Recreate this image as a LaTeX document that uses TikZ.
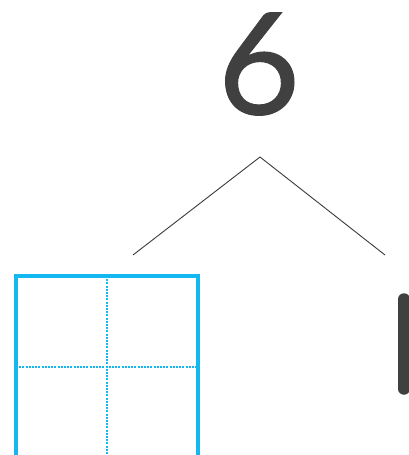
\documentclass[tikz,border=0pt]{standalone}
\usepackage{fontspec}
\usepackage{xcolor}
\usepackage{tikz}
\usetikzlibrary{positioning}
\newfontfamily\digitfont{Lato}[FakeBold=0.7]
\definecolor{digitgray}{HTML}{404040}
\definecolor{gridblue}{HTML}{14B8F0}

\begin{document}
\begin{tikzpicture}[
    x=1pt, y=-1pt,
    digit/.style={text=digitgray, font=\digitfont\fontsize{142}{142}\selectfont, inner sep=0pt},
    branch/.style={draw=digitgray!90!black, line width=0.9pt},
    gridbox/.style={draw=gridblue, line width=3.2pt, minimum size=182pt, inner sep=0pt, outer sep=0pt},
    guide/.style={draw=gridblue, line width=2.3pt, dash pattern=on 2pt off 1.2pt}
]
\useasboundingbox (0,0) rectangle (409,455);
\node[digit] (six) at (259,64) {6};
\coordinate (apex) at (260,157);
\coordinate (leftend) at (133,255);
\coordinate (rightend) at (385,255);
\draw[branch] (leftend) -- (apex) -- (rightend);
% writing box
\node[gridbox, anchor=north west] (box) at (16,276) {};
\draw[guide] (box.north) -- (box.south);
\draw[guide] (box.west) -- (box.east);
% cut off stroke
\coordinate (bartop) at (404,299);
\coordinate (barbot) at (404,389);
\draw[digitgray, line width=11.5pt, line cap=round] (bartop) -- (barbot);
\end{tikzpicture}
\end{document}
